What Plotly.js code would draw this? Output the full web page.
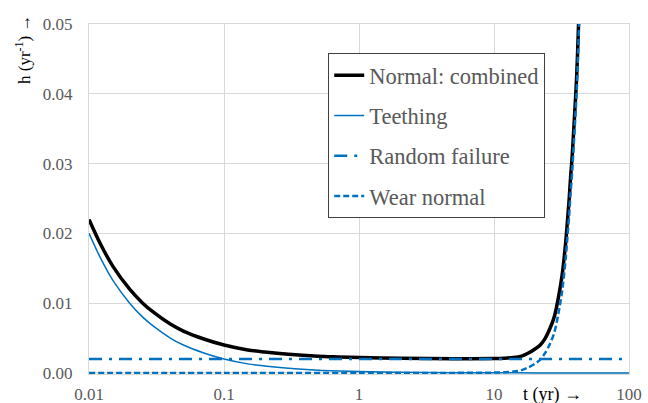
<!DOCTYPE html>
<html>
<head>
<meta charset="utf-8">
<script src="https://cdn.plot.ly/plotly-3.0.1.min.js"></script>
<style>html,body{margin:0;padding:0;background:#fff;}#chart{width:648px;height:403px;}</style>
</head>
<body>
<div id="chart"></div>
<script>
// time grid (yr) for the early / flat part
const tEarly = [0.01, 0.012, 0.015, 0.02, 0.025, 0.03, 0.04, 0.05, 0.07, 0.1, 0.15, 0.2, 0.3, 0.5, 0.7, 1, 2, 5, 10, 20, 50, 100];
const teething = [0.0200, 0.0167, 0.0133, 0.0100, 0.0080, 0.0067, 0.0050, 0.0040, 0.0029, 0.0020, 0.0013, 0.0010, 0.00067, 0.0004, 0.00029, 0.0002, 0.0001, 0.00004, 0.00002, 0.00001, 0.000004, 0.000002];

const tRandom = [0.01, 100];
const randomFailure = [0.002, 0.002];

// time grid (yr) for wear-out and combined curves
const tWear = [0.01, 0.1, 1, 5, 10, 12, 14, 16, 18, 20, 22, 24, 26, 28, 30, 32, 34, 35, 36, 37, 38, 39, 40, 41, 42, 43, 44];
const wearNormal = [0, 0, 0, 0.00001, 0.00005, 0.0001, 0.0002, 0.0004, 0.0008, 0.0013, 0.0019, 0.0029, 0.0042, 0.0058, 0.0085, 0.0118, 0.0165, 0.0195, 0.0225, 0.026, 0.029, 0.0328, 0.0365, 0.0405, 0.046, 0.052, 0.058];

const tCombined = [0.01, 0.012, 0.015, 0.02, 0.025, 0.03, 0.04, 0.05, 0.07, 0.1, 0.15, 0.2, 0.3, 0.5, 0.7, 1, 2, 5, 10, 12, 14, 16, 18, 20, 22, 24, 26, 28, 30, 32, 34, 35, 36, 37, 38, 39, 40, 41, 42, 43];
const combined = [0.0220, 0.0187, 0.0153, 0.0120, 0.0100, 0.0087, 0.0070, 0.0060, 0.0049, 0.0040, 0.0033, 0.0030, 0.00267, 0.0024, 0.0023, 0.0022, 0.0021, 0.00205, 0.00207, 0.00212, 0.00222, 0.00242, 0.00285, 0.0034, 0.0040, 0.0050, 0.0064, 0.0081, 0.0108, 0.0141, 0.0188, 0.0218, 0.0248, 0.0283, 0.0313, 0.0350, 0.0387, 0.0427, 0.0482, 0.0542];

const xTickVals = [0.01, 0.1, 1, 10, 100];
const xTickText = ['0.01', '0.1', '1', '10', '100'];
const yTickVals = [0, 0.01, 0.02, 0.03, 0.04, 0.05];
const yTickText = ['0.00', '0.01', '0.02', '0.03', '0.04', '0.05'];

const blue = '#0070C0';
const serif = 'Liberation Serif';

const traces = [
  {x: tCombined, y: combined, name: 'Normal: combined', mode: 'lines', legendgroup: 'a',
   line: {color: '#000000', width: 3.5, shape: 'spline', smoothing: 0.8}},
  {x: tEarly, y: teething, name: 'Teething', mode: 'lines', legendgroup: 'b',
   line: {color: blue, width: 1.5, shape: 'spline', smoothing: 0.8}},
  {x: tRandom, y: randomFailure, name: 'Random failure', mode: 'lines', legendgroup: 'c',
   line: {color: blue, width: 2.5, dash: '13px,7px,3px,7px'}},
  {x: tWear, y: wearNormal, name: 'Wear normal', mode: 'lines', legendgroup: 'd',
   line: {color: blue, width: 2.5, dash: '6px,3px', shape: 'spline', smoothing: 0.8}}
];

const layout = {
  width: 648, height: 403,
  margin: {l: 89, r: 19, t: 24, b: 29},
  paper_bgcolor: '#ffffff', plot_bgcolor: '#ffffff',
  font: {family: serif, color: '#595959', size: 16},
  showlegend: true,
  legend: {
    x: 0.443, y: 0.917, xanchor: 'left', yanchor: 'top',
    bgcolor: '#ffffff', bordercolor: '#404040', borderwidth: 1,
    font: {family: serif, size: 22.5, color: '#595959'},
    tracegroupgap: 8, traceorder: 'grouped', itemwidth: 30
  },
  xaxis: {
    type: 'log', range: [-2, 2],
    tickmode: 'array', tickvals: xTickVals, ticktext: xTickText,
    showgrid: true, gridcolor: '#d9d9d9', gridwidth: 1,
    showline: true, linecolor: '#d9d9d9', linewidth: 1, mirror: true,
    zeroline: false, ticks: '', ticklabelstandoff: 5,
    tickfont: {family: serif, size: 17, color: '#595959'}
  },
  yaxis: {
    range: [-0.00015, 0.05],
    tickmode: 'array', tickvals: yTickVals, ticktext: yTickText,
    showgrid: true, gridcolor: '#d9d9d9', gridwidth: 1,
    showline: true, linecolor: '#d9d9d9', linewidth: 1, mirror: true,
    zeroline: false, ticks: '', ticklabelstandoff: 12,
    tickfont: {family: serif, size: 17, color: '#595959'}
  },
  annotations: [
    {text: 'h (yr<sup>-1</sup>) →', xref: 'paper', yref: 'paper', x: -0.122, y: 0.926,
     xanchor: 'center', yanchor: 'middle', textangle: -90, showarrow: false,
     font: {family: serif, size: 17, color: '#000000'}},
    {text: 't (yr) →', xref: 'paper', yref: 'paper', x: 0.859, y: -0.058,
     xanchor: 'center', yanchor: 'middle', showarrow: false,
     font: {family: serif, size: 18, color: '#000000'}}
  ]
};

Plotly.newPlot('chart', traces, layout, {displayModeBar: false, staticPlot: true});
</script>
</body>
</html>
